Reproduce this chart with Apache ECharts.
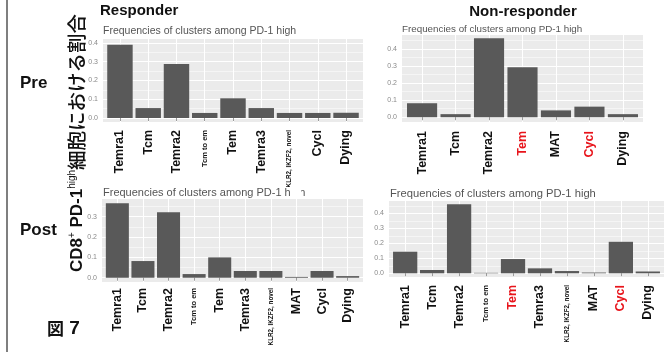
<!DOCTYPE html>
<html><head><meta charset="utf-8">
<script src="https://cdn.jsdelivr.net/npm/echarts@6/dist/echarts.min.js"></script>
<style>html,body{margin:0;padding:0;background:#fff}#c{width:664px;height:352px}</style>
</head><body><div id="c"></div>
<script>
// ---- data ----
const respPreCats = ['Temra1','Tcm','Temra2','Tcm to em','Tem','Temra3','KLR2, IKZF2, novel','Cycl','Dying'];
const respPreVals = [0.39,0.053,0.288,0.027,0.105,0.053,0.027,0.027,0.028];
const nonPreCats = ['Temra1','Tcm','Temra2','Tem','MAT','Cycl','Dying'];
const nonPreVals = [0.082,0.018,0.463,0.293,0.04,0.062,0.018];
const respPostCats = ['Temra1','Tcm','Temra2','Tcm to em','Tem','Temra3','KLR2, IKZF2, novel','MAT','Cycl','Dying'];
const respPostVals = [0.366,0.082,0.322,0.018,0.1,0.033,0.033,0.004,0.033,0.008];
const nonPostCats = ['Temra1','Tcm','Temra2','Tcm to em','Tem','Temra3','KLR2, IKZF2, novel','MAT','Cycl','Dying'];
const nonPostVals = [0.144,0.022,0.46,0.003,0.095,0.033,0.015,0.005,0.21,0.012];
const yTickLabels = [0, 0.1, 0.2, 0.3, 0.4];
const yGridValues = [0, 0.05, 0.1, 0.15, 0.2, 0.25, 0.3, 0.35, 0.4, 0.45];
const redCats = ['Tem', 'Cycl'];          // highlighted in non-responder panels
const smallCats = {'Tcm to em': 's', 'KLR2, IKZF2, novel': 'xs'};
const subtitle = 'Frequencies of clusters among PD-1 high';

// ---- layout ----
const panels = [
  {cats: respPreCats, vals: respPreVals, red: false, grid: {left: 103, top: 39, width: 260, height: 83}, yMin: -0.0213, yMax: 0.4213, margin: 8},
  {cats: nonPreCats, vals: nonPreVals, red: true, grid: {left: 402, top: 35, width: 241, height: 87}, yMin: -0.028, yMax: 0.482, margin: 9},
  {cats: respPostCats, vals: respPostVals, red: false, grid: {left: 102, top: 199, width: 261, height: 83}, yMin: -0.021, yMax: 0.387, margin: 6},
  {cats: nonPostCats, vals: nonPostVals, red: true, grid: {left: 389, top: 201, width: 275, height: 76}, yMin: -0.0247, yMax: 0.482, margin: 8}
];

const LAT = '"Liberation Sans", Arial, sans-serif';
const rich = {
  n: {fontFamily: LAT, fontWeight: 'bold', fontSize: 12.5, color: '#111'},
  r: {fontFamily: LAT, fontWeight: 'bold', fontSize: 12.5, color: '#e8141b'},
  s: {fontFamily: LAT, fontWeight: 'bold', fontSize: 7.5, color: '#111'},
  xs: {fontFamily: LAT, fontWeight: 'bold', fontSize: 6.3, color: '#111'}
};

const grids = [], xAxes = [], yAxes = [], series = [];
panels.forEach((p, i) => {
  grids.push(Object.assign({show: true, backgroundColor: '#ebebeb', borderWidth: 0}, p.grid));
  const centers = p.cats.map((c, k) => k + 1);
  xAxes.push({
    type: 'value', gridIndex: i, min: 0.4, max: p.cats.length + 0.6,
    axisLine: {show: false},
    axisTick: {show: true, length: 3, lineStyle: {color: '#9a9a9a'}, customValues: centers},
    splitLine: {show: true, lineStyle: {color: '#ffffff', width: 1}},
    axisLabel: {
      customValues: centers, rotate: 90, margin: p.margin, rich: rich,
      formatter: v => {
        const name = p.cats[Math.round(v) - 1];
        if (!name) return '';
        let key = smallCats[name] || 'n';
        if (p.red && redCats.indexOf(name) >= 0) key = 'r';
        return '{' + key + '|' + name + '}';
      }
    }
  });
  yAxes.push({
    type: 'value', gridIndex: i, min: p.yMin, max: p.yMax,
    axisLine: {show: false},
    axisTick: {show: false, customValues: yGridValues},
    splitLine: {show: true, lineStyle: {color: ['#ffffff', '#f5f5f5'], width: 1}},
    axisLabel: {
      customValues: yTickLabels, margin: 5, fontSize: 7, color: '#8a8a8a', fontFamily: LAT,
      formatter: v => v.toFixed(1)
    }
  });
  series.push({
    type: 'bar', xAxisIndex: i, yAxisIndex: i, barWidth: '90%',
    itemStyle: {color: '#595959'},
    data: p.vals.map((v, k) => [k + 1, v]),
    animation: false
  });
});

const subPos = [
  {x: 103, y: 31.5, fs: 10.5}, {x: 402, y: 29.5, fs: 9.8},
  {x: 103, y: 192.5, fs: 11}, {x: 390, y: 193.5, fs: 11.2}
];

const graphic = [
  {type: 'line', shape: {x1: 7, y1: 0, x2: 7, y2: 352}, style: {stroke: '#555', lineWidth: 1.5}},
  {type: 'text', x: 100, y: 11, style: {text: 'Responder', font: 'bold 15px ' + LAT, fill: '#111', verticalAlign: 'middle'}},
  {type: 'text', x: 523, y: 12, style: {text: 'Non-responder', font: 'bold 15px ' + LAT, fill: '#111', align: 'center', verticalAlign: 'middle'}},
  {type: 'text', x: 20, y: 83, style: {text: 'Pre', font: 'bold 17px ' + LAT, fill: '#111', verticalAlign: 'middle'}},
  {type: 'text', x: 20, y: 230, style: {text: 'Post', font: 'bold 17px ' + LAT, fill: '#111', verticalAlign: 'middle'}},
  {type: 'text', x: 47, y: 329, style: {
    text: '{j|図}{b| 7}', verticalAlign: 'middle',
    rich: {j: {fontFamily: '"Noto Sans CJK JP"', fontWeight: 'bold', fontSize: 17, fill: '#111'},
           b: {fontFamily: LAT, fontWeight: 'bold', fontSize: 19, fill: '#111'}}
  }},
  {type: 'text', x: 77, y: 143, rotation: Math.PI / 2, style: {
    text: '{b|CD8}{sup|+}{b| PD-1}{sup|high}{j|細胞における割合}',
    align: 'center', verticalAlign: 'middle',
    rich: {
      b: {fontFamily: LAT, fontWeight: 'bold', fontSize: 17, fill: '#111', lineHeight: 20},
      sup: {fontFamily: LAT, fontWeight: 'normal', fontSize: 10, fill: '#111', verticalAlign: 'top', lineHeight: 20},
      j: {fontFamily: '"Noto Sans CJK JP"', fontWeight: 500, fontSize: 19.5, fill: '#111', lineHeight: 20}
    }
  }}
];
subPos.forEach(s => graphic.push({type: 'text', x: s.x, y: s.y,
  style: {text: subtitle, font: s.fs + 'px ' + LAT, fill: '#555', verticalAlign: 'middle'}}));
graphic.push({type: 'rect', shape: {x: 290, y: 186, width: 11, height: 13}, style: {fill: '#fff'}, z: 100});

const chart = echarts.init(document.getElementById('c'), null, {renderer: 'canvas'});
chart.setOption({animation: false, grid: grids, xAxis: xAxes, yAxis: yAxes, series: series, graphic: graphic});
</script></body></html>
